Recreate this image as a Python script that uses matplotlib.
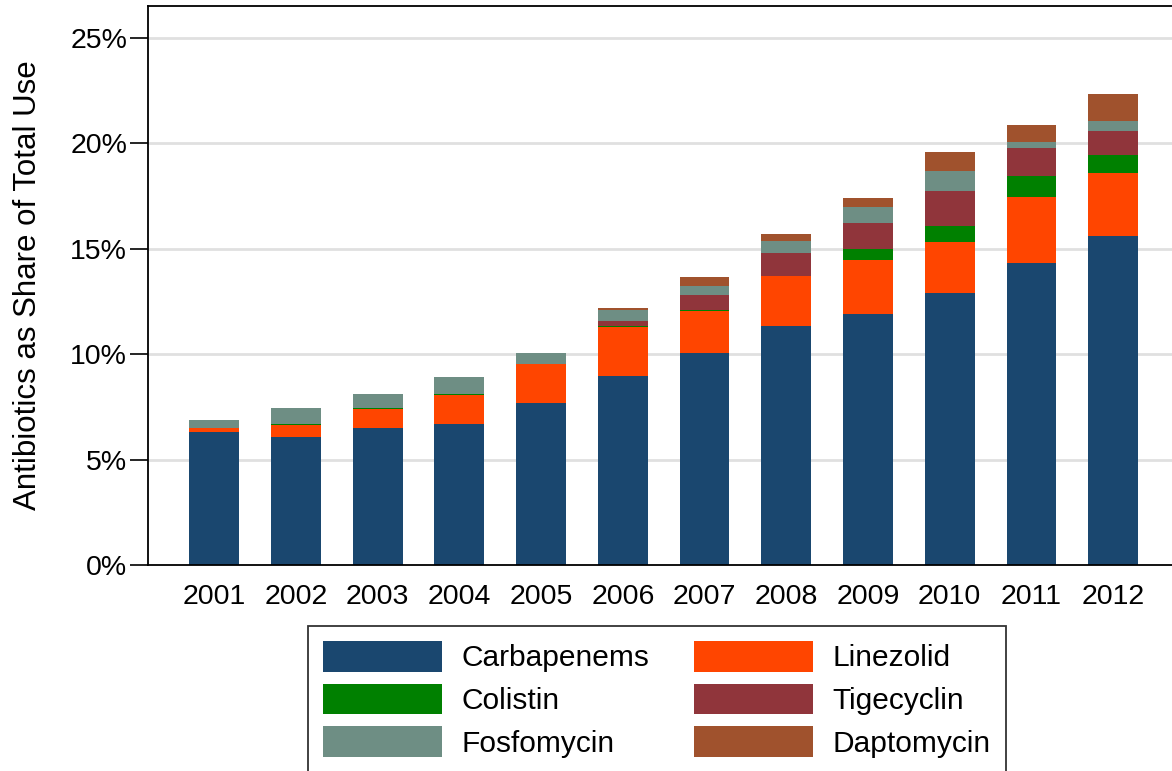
#Stacked bars: antibiotics as share of total use, 2001-2012

import numpy as np
import matplotlib.pyplot as plt
from matplotlib.patches import Patch

plt.rcParams['font.family'] = ['Liberation Sans', 'DejaVu Sans']

years = ['2001', '2002', '2003', '2004', '2005', '2006',
         '2007', '2008', '2009', '2010', '2011', '2012']

# shares in percent (stack order bottom -> top)
carbapenems = [6.31, 6.06, 6.51, 6.70, 7.70, 8.98, 10.04, 11.34, 11.91, 12.89, 14.31, 15.59]
linezolid   = [0.19, 0.58, 0.88, 1.35, 1.85, 2.33, 2.03, 2.38, 2.54, 2.45, 3.15, 3.02]
colistin    = [0.00, 0.05, 0.07, 0.08, 0.00, 0.05, 0.03, 0.00, 0.53, 0.76, 0.99, 0.84]
tigecyclin  = [0.00, 0.00, 0.00, 0.00, 0.00, 0.22, 0.71, 1.07, 1.26, 1.64, 1.35, 1.12]
fosfomycin  = [0.36, 0.76, 0.64, 0.79, 0.51, 0.54, 0.41, 0.60, 0.74, 0.95, 0.27, 0.49]
daptomycin  = [0.00, 0.00, 0.00, 0.00, 0.00, 0.08, 0.44, 0.33, 0.44, 0.90, 0.80, 1.28]

series = [('Carbapenems', carbapenems, '#1a476f'),
          ('Linezolid', linezolid, '#ff4500'),
          ('Colistin', colistin, '#008000'),
          ('Tigecyclin', tigecyclin, '#90353b'),
          ('Fosfomycin', fosfomycin, '#6e8e84'),
          ('Daptomycin', daptomycin, '#a0522d')]

fig = plt.figure(figsize=(11.72, 7.71), dpi=100)
ax = fig.add_axes([148/1172, 206/771, 1 - 148/1172, 559/771])

x = np.arange(len(years))
bottom = np.zeros(len(years))
for name, vals, col in series:
    vals = np.array(vals)
    ax.bar(x, vals, width=0.61, bottom=bottom, color=col, label=name,
           edgecolor='none', zorder=2)
    bottom += vals

ax.set_xlim(-0.81, 11.72)
ax.set_ylim(0, 26.52)
ax.set_xticks(x)
ax.set_xticklabels(years)
ax.set_yticks([0, 5, 10, 15, 20, 25])
ax.set_yticklabels(['0%', '5%', '10%', '15%', '20%', '25%'])
ax.tick_params(axis='x', length=0, pad=14, labelsize=20.5)
ax.tick_params(axis='y', length=13, width=1.2, pad=2, labelsize=20.5)
for y in [5, 10, 15, 20, 25]:
    ax.axhline(y, color='#e0e0e0', lw=2, zorder=1)
for s in ['left', 'top', 'bottom']:
    ax.spines[s].set_linewidth(1.3)
ax.spines['right'].set_visible(False)
ax.set_ylabel('Antibiotics as Share of Total Use', fontsize=22.5, labelpad=20)

# legend: Carbapenems/Colistin/Fosfomycin left, the rest right
order = [0, 2, 4, 1, 3, 5]
handles = [Patch(facecolor=series[i][2], label=series[i][0]) for i in order]
leg = fig.legend(handles=handles, ncol=2, loc='upper left',
                 bbox_to_anchor=(308/1172, 1 - 626/771), fontsize=21.5,
                 handlelength=4.0, handleheight=1.2, handletextpad=0.65,
                 columnspacing=1.48, labelspacing=0.38, borderpad=0.5,
                 borderaxespad=0, frameon=True, fancybox=False,
                 edgecolor='black')
leg.get_frame().set_linewidth(1.3)

plt.savefig('out.png', dpi=100)
